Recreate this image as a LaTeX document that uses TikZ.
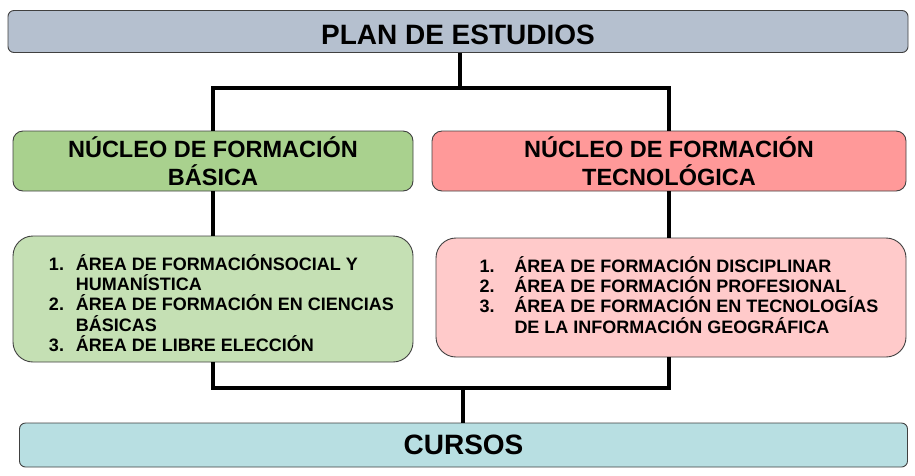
\documentclass[tikz,border=0pt]{standalone}
\usepackage{fontspec}
\setmainfont{Liberation Sans}
\usepackage{tikz}
\usetikzlibrary{positioning}
\definecolor{planfill}{HTML}{B5C0CF}
\definecolor{basicafill}{HTML}{A9D18E}
\definecolor{basicaareas}{HTML}{C5E0B4}
\definecolor{tecnofill}{HTML}{FF9999}
\definecolor{tecnoareas}{HTML}{FFCACA}
\definecolor{cursosfill}{HTML}{B8DFE2}
\newcommand\numarea[3]{\hspace*{#1}\makebox[#2][l]{#3}}
\tikzset{
    caja/.style={draw=black!75, line width=0.9pt, align=center, inner sep=0pt},
    titulo/.style={caja, rounded corners=6pt, minimum height=42pt,
        font=\bfseries\fontsize{28}{32}\selectfont},
    nucleo/.style={caja, rounded corners=10pt, minimum height=60pt,
        font=\bfseries\fontsize{23.5}{28}\selectfont},
    areas/.style={caja, rounded corners=20pt, align=left, text depth=0pt,
        font=\bfseries\fontsize{18}{20.25}\selectfont},
    enlace/.style={line width=4pt}
}

\begin{document}
\begin{tikzpicture}[x=1pt, y=-1pt]
    \useasboundingbox (0,0) rectangle (915,475);
    \node[titulo, fill=planfill, minimum width=900pt, text height=26pt] at (458,31.5) (plan) {PLAN DE ESTUDIOS};
    \node[nucleo, fill=basicafill, minimum width=400pt] at (213,161) (basica) {NÚCLEO DE FORMACIÓN\\BÁSICA};
    \node[nucleo, fill=tecnofill, minimum width=474pt] at (669,161) (tecno) {NÚCLEO DE FORMACIÓN\\TECNOLÓGICA};
    \node[areas, fill=basicaareas, minimum width=400pt, minimum height=126pt, text height=104.8pt] at (213,299) (areasb) {%
        \numarea{17pt}{27pt}{1.}ÁREA DE FORMACIÓNSOCIAL Y\\
        \numarea{17pt}{27pt}{}HUMANÍSTICA\\
        \numarea{17pt}{27pt}{2.}ÁREA DE FORMACIÓN EN CIENCIAS\\
        \numarea{17pt}{27pt}{}BÁSICAS\\
        \numarea{17pt}{27pt}{3.}ÁREA DE LIBRE ELECCIÓN};
    \node[areas, fill=tecnoareas, minimum width=470pt, minimum height=119pt, text height=71.3pt] at (671,297.5) (areast) {%
        \numarea{16pt}{35pt}{1.}ÁREA DE FORMACIÓN DISCIPLINAR\\
        \numarea{16pt}{35pt}{2.}ÁREA DE FORMACIÓN PROFESIONAL\\
        \numarea{16pt}{35pt}{3.}ÁREA DE FORMACIÓN EN TECNOLOGÍAS\\
        \numarea{16pt}{35pt}{}DE LA INFORMACIÓN GEOGRÁFICA};
    \node[titulo, fill=cursosfill, minimum width=888pt, minimum height=44pt] at (463.5,445) (cursos) {CURSOS};
    \coordinate (arriba) at (460,88);
    \coordinate (abajo) at (463,388);
    \draw[enlace] (plan.south -| arriba) -- (arriba);
    \draw[enlace] (basica.north) -- (basica.north |- arriba) -- (tecno.north |- arriba) -- (tecno.north);
    \draw[enlace] (basica.south) -- (areasb.north);
    \draw[enlace] (tecno.south) -- (tecno.south |- areast.north);
    \draw[enlace] (areasb.south) |- (abajo) -| (tecno.south |- areast.south);
    \draw[enlace] (abajo) -- (abajo |- cursos.north);
\end{tikzpicture}
\end{document}
